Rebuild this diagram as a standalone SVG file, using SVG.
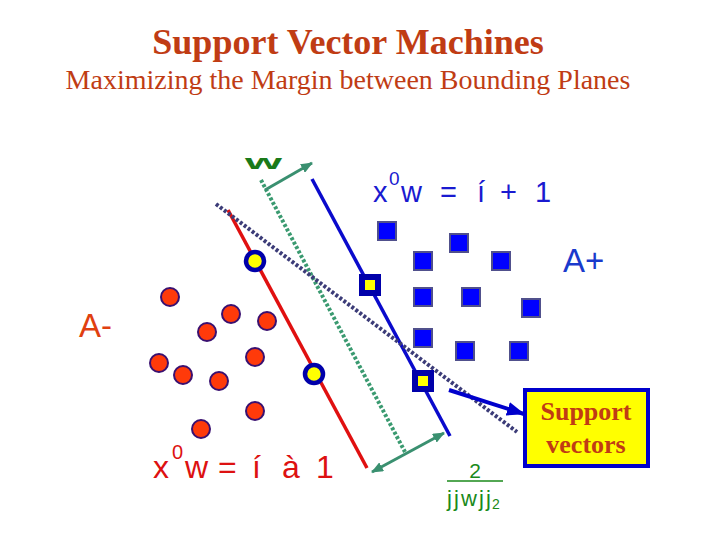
<svg xmlns="http://www.w3.org/2000/svg" width="720" height="540" viewBox="0 0 720 540">
<style>
.title{font-family:"Liberation Serif",serif;fill:#c03c14}
.sans{font-family:"Liberation Sans",Arial,sans-serif}
.neg{fill:#ff3a0a;stroke:#3a1070;stroke-width:2}
.pos{fill:#0000ff;stroke:#50508c;stroke-width:2}
.sv-c{fill:#ffff00;stroke:#0000aa;stroke-width:4.5}
.sv-s{fill:#ffff00;stroke:#0000aa;stroke-width:6}
.dots{fill:none;stroke-width:4;stroke-dasharray:3 2}
</style>
<defs>
<marker id="gh" viewBox="0 0 12 10" refX="11" refY="5" markerWidth="12" markerHeight="10" markerUnits="userSpaceOnUse" orient="auto-start-reverse"><path d="M0,0 L12,5 L0,10 Z" fill="#3a9070"/></marker>
<marker id="bh" viewBox="0 0 18 14" refX="17" refY="7" markerWidth="18" markerHeight="14" markerUnits="userSpaceOnUse" orient="auto"><path d="M0,0 L18,7 L0,14 Z" fill="#0000cc"/></marker>
</defs>
<rect width="720" height="540" fill="#ffffff"/>
<g id="titles">
<text class="title" x="348" y="54" font-size="36" font-weight="bold" text-anchor="middle">Support Vector Machines</text>
<text class="title" x="348" y="89" font-size="28" text-anchor="middle">Maximizing the Margin between Bounding Planes</text>
</g>
<g id="connectors">
<line x1="228" y1="210" x2="367" y2="468" stroke="#e01010" stroke-width="3.5"/>
<line x1="312" y1="179" x2="450" y2="436" stroke="#0a0acc" stroke-width="3.5"/>
<line class="dots" x1="261" y1="180" x2="405" y2="452" stroke="#3a9a70"/>
<line class="dots" x1="216" y1="204" x2="517" y2="432" stroke="#3c3c78"/>
<line x1="265" y1="190" x2="312" y2="163" stroke="#3a9070" stroke-width="3" marker-end="url(#gh)"/>
<line x1="372" y1="472" x2="444" y2="433" stroke="#3a9070" stroke-width="3" marker-start="url(#gh)" marker-end="url(#gh)"/>
<line x1="449" y1="390" x2="524" y2="414" stroke="#0000cc" stroke-width="4" marker-end="url(#bh)"/>
</g>
<g id="class-minus">
<circle class="neg" cx="170" cy="297" r="9"/>
<circle class="neg" cx="231" cy="314" r="9"/>
<circle class="neg" cx="267" cy="321" r="9"/>
<circle class="neg" cx="207" cy="332" r="9"/>
<circle class="neg" cx="159" cy="363" r="9"/>
<circle class="neg" cx="183" cy="375" r="9"/>
<circle class="neg" cx="219" cy="381" r="9"/>
<circle class="neg" cx="255" cy="357" r="9"/>
<circle class="neg" cx="255" cy="411" r="9"/>
<circle class="neg" cx="201" cy="429" r="9"/>
<circle class="sv-c" cx="255" cy="261" r="9"/>
<circle class="sv-c" cx="314" cy="374" r="9"/>
</g>
<g id="class-plus">
<rect class="pos" x="378" y="222" width="18" height="18"/>
<rect class="pos" x="450" y="234" width="18" height="18"/>
<rect class="pos" x="414" y="252" width="18" height="18"/>
<rect class="pos" x="492" y="252" width="18" height="18"/>
<rect class="pos" x="414" y="288" width="18" height="18"/>
<rect class="pos" x="462" y="288" width="18" height="18"/>
<rect class="pos" x="522" y="299" width="18" height="18"/>
<rect class="pos" x="414" y="329" width="18" height="18"/>
<rect class="pos" x="456" y="342" width="18" height="18"/>
<rect class="pos" x="510" y="342" width="18" height="18"/>
<rect class="sv-s" x="362" y="277" width="16" height="16"/>
<rect class="sv-s" x="415" y="373" width="16" height="16"/>
</g>
<g id="label-w">
<text class="sans" x="245" y="169" font-size="21" font-weight="bold" fill="#1a7a1a" textLength="37" lengthAdjust="spacingAndGlyphs">w</text>
</g>
<g id="eq-plus" class="sans" fill="#1a1ad0">
<text x="373" y="202" font-size="29">x</text>
<text x="389" y="185" font-size="19">0</text>
<text x="401" y="202" font-size="29">w</text>
<text x="440" y="202" font-size="29">=</text>
<text x="477" y="202" font-size="29">í</text>
<text x="500" y="202" font-size="29">+</text>
<text x="535" y="202" font-size="29">1</text>
</g>
<g id="eq-minus" class="sans" fill="#dd1111">
<text x="153" y="478" font-size="32">x</text>
<text x="172" y="459" font-size="20">0</text>
<text x="185" y="478" font-size="32">w</text>
<text x="218" y="478" font-size="32">=</text>
<text x="252" y="478" font-size="32">í</text>
<text x="282" y="478" font-size="32">à</text>
<text x="316" y="478" font-size="32">1</text>
</g>
<g id="label-Aplus"><text class="sans" x="563" y="272" font-size="33" fill="#1a3acc">A+</text></g>
<g id="label-Aminus"><text class="sans" x="79" y="337" font-size="33" fill="#e04010">A-</text></g>
<g id="margin" class="sans" fill="#1a8a1a">
<text x="475" y="478" font-size="21" text-anchor="middle">2</text>
<line x1="447" y1="481" x2="503" y2="481" stroke="#1a8a1a" stroke-width="1.5"/>
<text x="447" y="506" font-size="22" textLength="44" lengthAdjust="spacing">jjwjj</text>
<text x="492" y="509" font-size="14">2</text>
</g>
<g id="support-vectors">
<rect x="525" y="390" width="123" height="76" fill="#ffff00" stroke="#0000cc" stroke-width="4"/>
<text class="title" x="586" y="420" font-size="26" font-weight="bold" text-anchor="middle" fill="#c04000">Support</text>
<text class="title" x="586" y="453" font-size="26" font-weight="bold" text-anchor="middle" fill="#c04000">vectors</text>
</g>
</svg>
